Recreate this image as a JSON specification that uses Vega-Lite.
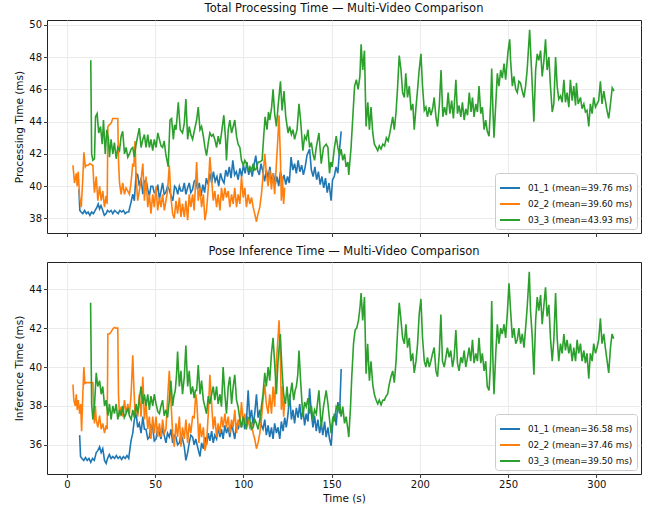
{
"$schema": "https://vega.github.io/schema/vega-lite/v6.json",
"padding": {"left": 14, "top": 2, "right": 10, "bottom": 5},
"background": "white",
"config": {
  "font": "DejaVu Sans",
  "view": {"stroke": "#222222", "strokeWidth": 1},
  "axis": {"domain": false, "tickColor": "#222222", "tickSize": 3.5, "tickWidth": 0.9, "labelFontSize": 10, "labelColor": "#111111", "titleFontSize": 10.5, "titleFontWeight": "normal", "titleColor": "#111111", "gridColor": "#e6e6e6", "gridWidth": 0.8, "labelPadding": 2, "titlePadding": 4},
  "title": {"fontSize": 11.5, "fontWeight": "normal", "color": "#111111", "offset": 5},
  "legend": {"fillColor": "white", "strokeColor": "#cccccc", "cornerRadius": 3, "padding": 4, "symbolType": "stroke", "symbolStrokeWidth": 2, "symbolSize": 400, "labelFontSize": 8.8, "labelColor": "#111111", "labelLimit": 300, "labelOffset": 7, "rowPadding": -4, "offset": 4}
},
"datasets": {
"total": [
{"s":"01_1","t":6.8,"y":39.8},{"s":"01_1","t":7.3,"y":38.5},{"s":"01_1","t":8,"y":38.4},{"s":"01_1","t":9,"y":38.3},{"s":"01_1","t":10,"y":38.5},{"s":"01_1","t":11,"y":38.3},{"s":"01_1","t":12,"y":38.4},{"s":"01_1","t":13,"y":38.2},{"s":"01_1","t":14,"y":38.4},{"s":"01_1","t":15,"y":38.3},{"s":"01_1","t":16,"y":38.5},{"s":"01_1","t":17,"y":38.7},{"s":"01_1","t":17.7,"y":38.9},{"s":"01_1","t":18.5,"y":38.6},{"s":"01_1","t":19.3,"y":38.8},{"s":"01_1","t":20.3,"y":38.5},{"s":"01_1","t":21.2,"y":38.2},{"s":"01_1","t":22.2,"y":38.3},{"s":"01_1","t":23,"y":38.5},{"s":"01_1","t":24,"y":38.4},{"s":"01_1","t":25,"y":38.5},{"s":"01_1","t":26,"y":38.3},{"s":"01_1","t":27,"y":38.5},{"s":"01_1","t":28,"y":38.4},{"s":"01_1","t":29,"y":38.3},{"s":"01_1","t":30,"y":38.5},{"s":"01_1","t":31,"y":38.4},{"s":"01_1","t":32,"y":38.5},{"s":"01_1","t":33,"y":38.3},{"s":"01_1","t":34,"y":38.4},{"s":"01_1","t":35,"y":38.4},{"s":"01_1","t":36.3,"y":39.0},{"s":"01_1","t":37.3,"y":39.5},{"s":"01_1","t":38.2,"y":39.1},{"s":"01_1","t":39.2,"y":40.8},{"s":"01_1","t":40.1,"y":40.7},{"s":"01_1","t":41,"y":40.0},{"s":"01_1","t":42,"y":40.5},{"s":"01_1","t":43,"y":39.5},{"s":"01_1","t":43.9,"y":40.3},{"s":"01_1","t":44.8,"y":40.4},{"s":"01_1","t":45.8,"y":39.8},{"s":"01_1","t":46.7,"y":39.4},{"s":"01_1","t":47.6,"y":40.0},{"s":"01_1","t":48.6,"y":40.0},{"s":"01_1","t":49.5,"y":39.6},{"s":"01_1","t":50.5,"y":39.6},{"s":"01_1","t":51.5,"y":40.1},{"s":"01_1","t":52.4,"y":39.2},{"s":"01_1","t":53.3,"y":39.7},{"s":"01_1","t":54.2,"y":40.2},{"s":"01_1","t":55.1,"y":39.5},{"s":"01_1","t":56,"y":39.6},{"s":"01_1","t":57,"y":40.0},{"s":"01_1","t":58,"y":39.8},{"s":"01_1","t":59,"y":39.4},{"s":"01_1","t":60,"y":39.1},{"s":"01_1","t":61,"y":40.0},{"s":"01_1","t":61.8,"y":39.9},{"s":"01_1","t":62.8,"y":39.5},{"s":"01_1","t":63.7,"y":40.0},{"s":"01_1","t":64.6,"y":39.7},{"s":"01_1","t":65.5,"y":39.7},{"s":"01_1","t":66.5,"y":40.2},{"s":"01_1","t":67.4,"y":39.5},{"s":"01_1","t":68.4,"y":39.9},{"s":"01_1","t":69.3,"y":40.2},{"s":"01_1","t":70.2,"y":39.6},{"s":"01_1","t":71.2,"y":39.8},{"s":"01_1","t":72.1,"y":40.3},{"s":"01_1","t":73,"y":40.4},{"s":"01_1","t":74,"y":39.8},{"s":"01_1","t":75,"y":40.2},{"s":"01_1","t":76,"y":39.4},{"s":"01_1","t":77,"y":40.1},{"s":"01_1","t":78,"y":39.6},{"s":"01_1","t":79,"y":40.5},{"s":"01_1","t":80,"y":40.1},{"s":"01_1","t":81,"y":40.8},{"s":"01_1","t":82,"y":40.2},{"s":"01_1","t":83,"y":40.9},{"s":"01_1","t":84,"y":40.3},{"s":"01_1","t":85,"y":40.6},{"s":"01_1","t":86,"y":40.0},{"s":"01_1","t":87,"y":40.8},{"s":"01_1","t":88,"y":40.4},{"s":"01_1","t":89,"y":40.2},{"s":"01_1","t":90,"y":41.0},{"s":"01_1","t":91,"y":40.6},{"s":"01_1","t":92,"y":41.2},{"s":"01_1","t":93,"y":40.5},{"s":"01_1","t":94,"y":41.6},{"s":"01_1","t":95,"y":40.7},{"s":"01_1","t":96,"y":40.9},{"s":"01_1","t":97,"y":40.4},{"s":"01_1","t":98,"y":41.1},{"s":"01_1","t":99,"y":40.6},{"s":"01_1","t":100,"y":41.3},{"s":"01_1","t":101,"y":40.8},{"s":"01_1","t":102,"y":41.5},{"s":"01_1","t":103,"y":40.7},{"s":"01_1","t":104,"y":41.2},{"s":"01_1","t":105,"y":40.6},{"s":"01_1","t":106,"y":41.3},{"s":"01_1","t":107,"y":41.9},{"s":"01_1","t":108,"y":41.0},{"s":"01_1","t":109,"y":40.7},{"s":"01_1","t":110,"y":41.4},{"s":"01_1","t":111,"y":40.9},{"s":"01_1","t":112,"y":40.3},{"s":"01_1","t":113,"y":41.0},{"s":"01_1","t":114,"y":40.5},{"s":"01_1","t":115,"y":41.2},{"s":"01_1","t":116,"y":40.2},{"s":"01_1","t":117,"y":40.8},{"s":"01_1","t":118,"y":40.1},{"s":"01_1","t":119,"y":40.6},{"s":"01_1","t":120,"y":40.0},{"s":"01_1","t":121,"y":40.9},{"s":"01_1","t":122,"y":40.3},{"s":"01_1","t":123,"y":40.7},{"s":"01_1","t":124,"y":40.1},{"s":"01_1","t":125,"y":40.6},{"s":"01_1","t":126,"y":40.2},{"s":"01_1","t":127,"y":41.8},{"s":"01_1","t":128,"y":41.0},{"s":"01_1","t":129,"y":41.4},{"s":"01_1","t":130,"y":40.8},{"s":"01_1","t":131,"y":41.6},{"s":"01_1","t":132,"y":40.9},{"s":"01_1","t":133,"y":41.3},{"s":"01_1","t":134,"y":40.7},{"s":"01_1","t":135,"y":41.2},{"s":"01_1","t":136,"y":41.9},{"s":"01_1","t":137.5,"y":42.3},{"s":"01_1","t":138.5,"y":41.0},{"s":"01_1","t":139.5,"y":40.6},{"s":"01_1","t":140.5,"y":41.2},{"s":"01_1","t":141.5,"y":40.4},{"s":"01_1","t":142.5,"y":40.9},{"s":"01_1","t":143.5,"y":40.1},{"s":"01_1","t":144.5,"y":40.6},{"s":"01_1","t":145.5,"y":39.9},{"s":"01_1","t":146.5,"y":40.5},{"s":"01_1","t":147.5,"y":39.6},{"s":"01_1","t":148.5,"y":40.2},{"s":"01_1","t":149.7,"y":39.1},{"s":"01_1","t":150.5,"y":40.4},{"s":"01_1","t":151.5,"y":40.6},{"s":"01_1","t":152.5,"y":41.2},{"s":"01_1","t":153.5,"y":40.8},{"s":"01_1","t":154.5,"y":42.3},{"s":"01_1","t":155.4,"y":43.4},
{"s":"02_2","t":3.4,"y":41.3},{"s":"02_2","t":4.3,"y":40.2},{"s":"02_2","t":5.3,"y":40.8},{"s":"02_2","t":5.8,"y":40.0},{"s":"02_2","t":6.4,"y":40.9},{"s":"02_2","t":7.2,"y":39.3},{"s":"02_2","t":8.1,"y":38.7},{"s":"02_2","t":9,"y":40.5},{"s":"02_2","t":9.6,"y":42.1},{"s":"02_2","t":10.4,"y":41.2},{"s":"02_2","t":11,"y":41.3},{"s":"02_2","t":12,"y":41.3},{"s":"02_2","t":13,"y":41.4},{"s":"02_2","t":14.3,"y":41.3},{"s":"02_2","t":14.7,"y":41.3},{"s":"02_2","t":15.2,"y":40.2},{"s":"02_2","t":15.6,"y":39.6},{"s":"02_2","t":16.6,"y":40.6},{"s":"02_2","t":17.5,"y":39.1},{"s":"02_2","t":18.5,"y":40.0},{"s":"02_2","t":19.4,"y":39.1},{"s":"02_2","t":20.3,"y":39.7},{"s":"02_2","t":21.3,"y":38.7},{"s":"02_2","t":22.2,"y":39.4},{"s":"02_2","t":22.8,"y":38.9},{"s":"02_2","t":23.2,"y":43.7},{"s":"02_2","t":24,"y":43.8},{"s":"02_2","t":25,"y":43.9},{"s":"02_2","t":26,"y":44.2},{"s":"02_2","t":27,"y":44.2},{"s":"02_2","t":28,"y":44.2},{"s":"02_2","t":28.8,"y":44.2},{"s":"02_2","t":29.2,"y":41.6},{"s":"02_2","t":29.8,"y":40.2},{"s":"02_2","t":30.7,"y":39.5},{"s":"02_2","t":31.6,"y":40.2},{"s":"02_2","t":32.6,"y":39.5},{"s":"02_2","t":33.5,"y":39.9},{"s":"02_2","t":34.5,"y":39.7},{"s":"02_2","t":35.4,"y":39.5},{"s":"02_2","t":36.3,"y":40.2},{"s":"02_2","t":37.3,"y":41.4},{"s":"02_2","t":37.9,"y":41.2},{"s":"02_2","t":38.6,"y":42.8},{"s":"02_2","t":39.2,"y":40.6},{"s":"02_2","t":40.1,"y":39.1},{"s":"02_2","t":41,"y":39.7},{"s":"02_2","t":42,"y":40.4},{"s":"02_2","t":43,"y":41.4},{"s":"02_2","t":43.9,"y":39.1},{"s":"02_2","t":44.8,"y":40.6},{"s":"02_2","t":45.8,"y":38.7},{"s":"02_2","t":46.7,"y":39.5},{"s":"02_2","t":47.6,"y":38.3},{"s":"02_2","t":48.6,"y":39.5},{"s":"02_2","t":49.5,"y":38.7},{"s":"02_2","t":50.5,"y":40.0},{"s":"02_2","t":51.4,"y":38.5},{"s":"02_2","t":52.4,"y":39.3},{"s":"02_2","t":53.3,"y":38.7},{"s":"02_2","t":54.2,"y":39.5},{"s":"02_2","t":55.2,"y":38.5},{"s":"02_2","t":56.1,"y":39.1},{"s":"02_2","t":57,"y":39.7},{"s":"02_2","t":58,"y":41.3},{"s":"02_2","t":58.9,"y":39.3},{"s":"02_2","t":59.9,"y":38.3},{"s":"02_2","t":60.8,"y":38.0},{"s":"02_2","t":61.8,"y":39.1},{"s":"02_2","t":62.7,"y":38.3},{"s":"02_2","t":63.7,"y":39.3},{"s":"02_2","t":64.6,"y":38.1},{"s":"02_2","t":65.5,"y":38.9},{"s":"02_2","t":66.5,"y":38.1},{"s":"02_2","t":67.4,"y":39.1},{"s":"02_2","t":68.4,"y":37.9},{"s":"02_2","t":69.3,"y":39.5},{"s":"02_2","t":70.2,"y":38.7},{"s":"02_2","t":71.2,"y":39.5},{"s":"02_2","t":72.1,"y":38.5},{"s":"02_2","t":73.5,"y":41.5},{"s":"02_2","t":74.4,"y":39.1},{"s":"02_2","t":75.4,"y":39.9},{"s":"02_2","t":76.3,"y":38.7},{"s":"02_2","t":77.3,"y":39.5},{"s":"02_2","t":78.2,"y":37.9},{"s":"02_2","t":79.1,"y":38.5},{"s":"02_2","t":80.1,"y":39.9},{"s":"02_2","t":81,"y":41.8},{"s":"02_2","t":82,"y":40.4},{"s":"02_2","t":82.9,"y":39.1},{"s":"02_2","t":83.8,"y":39.7},{"s":"02_2","t":84.8,"y":38.7},{"s":"02_2","t":85.7,"y":39.5},{"s":"02_2","t":86.7,"y":38.5},{"s":"02_2","t":87.6,"y":39.9},{"s":"02_2","t":88.5,"y":39.1},{"s":"02_2","t":89.5,"y":39.9},{"s":"02_2","t":90.4,"y":39.3},{"s":"02_2","t":91.4,"y":39.7},{"s":"02_2","t":92.3,"y":38.7},{"s":"02_2","t":93.3,"y":39.5},{"s":"02_2","t":94.2,"y":38.9},{"s":"02_2","t":95.1,"y":39.9},{"s":"02_2","t":96.1,"y":38.7},{"s":"02_2","t":97,"y":39.5},{"s":"02_2","t":98,"y":38.9},{"s":"02_2","t":98.9,"y":40.6},{"s":"02_2","t":99.9,"y":39.3},{"s":"02_2","t":100.8,"y":39.9},{"s":"02_2","t":101.7,"y":38.7},{"s":"02_2","t":102.7,"y":39.5},{"s":"02_2","t":103.6,"y":38.9},{"s":"02_2","t":104.6,"y":39.3},{"s":"02_2","t":105.5,"y":38.7},{"s":"02_2","t":106.4,"y":38.3},{"s":"02_2","t":107.4,"y":37.8},{"s":"02_2","t":108.3,"y":38.3},{"s":"02_2","t":109.3,"y":38.7},{"s":"02_2","t":110.2,"y":39.5},{"s":"02_2","t":111.1,"y":40.6},{"s":"02_2","t":112.1,"y":42.0},{"s":"02_2","t":113,"y":40.8},{"s":"02_2","t":114,"y":40.0},{"s":"02_2","t":114.9,"y":41.0},{"s":"02_2","t":115.9,"y":39.8},{"s":"02_2","t":116.8,"y":40.8},{"s":"02_2","t":117.7,"y":39.5},{"s":"02_2","t":118.7,"y":41.4},{"s":"02_2","t":119.6,"y":43.1},{"s":"02_2","t":120.2,"y":44.4},{"s":"02_2","t":121,"y":41.6},{"s":"02_2","t":121.5,"y":39.1},{"s":"02_2","t":122.1,"y":40.6},{"s":"02_2","t":122.8,"y":38.9},{"s":"02_2","t":123.4,"y":39.9},
{"s":"03_3","t":13.5,"y":47.8},{"s":"03_3","t":14,"y":42.0},{"s":"03_3","t":14.7,"y":41.6},{"s":"03_3","t":15.6,"y":41.7},{"s":"03_3","t":16.2,"y":44.3},{"s":"03_3","t":17.1,"y":44.5},{"s":"03_3","t":18,"y":43.3},{"s":"03_3","t":19,"y":43.7},{"s":"03_3","t":20,"y":42.6},{"s":"03_3","t":20.7,"y":44.1},{"s":"03_3","t":21.7,"y":42.0},{"s":"03_3","t":22.6,"y":43.5},{"s":"03_3","t":23.5,"y":42.9},{"s":"03_3","t":24.1,"y":41.8},{"s":"03_3","t":25,"y":42.9},{"s":"03_3","t":26,"y":42.0},{"s":"03_3","t":26.9,"y":42.7},{"s":"03_3","t":27.9,"y":41.7},{"s":"03_3","t":28.8,"y":42.4},{"s":"03_3","t":29.8,"y":42.2},{"s":"03_3","t":30.7,"y":43.1},{"s":"03_3","t":31.6,"y":43.4},{"s":"03_3","t":32.6,"y":42.0},{"s":"03_3","t":33.5,"y":42.4},{"s":"03_3","t":34.5,"y":41.8},{"s":"03_3","t":35.4,"y":42.0},{"s":"03_3","t":36.4,"y":42.3},{"s":"03_3","t":37.3,"y":42.4},{"s":"03_3","t":38.2,"y":41.8},{"s":"03_3","t":39.2,"y":42.6},{"s":"03_3","t":40.1,"y":43.1},{"s":"03_3","t":41,"y":43.6},{"s":"03_3","t":42,"y":42.4},{"s":"03_3","t":43,"y":42.9},{"s":"03_3","t":43.9,"y":43.2},{"s":"03_3","t":44.8,"y":42.4},{"s":"03_3","t":45.8,"y":43.2},{"s":"03_3","t":46.7,"y":42.4},{"s":"03_3","t":47.6,"y":42.9},{"s":"03_3","t":48.6,"y":42.2},{"s":"03_3","t":49.5,"y":42.9},{"s":"03_3","t":50.5,"y":42.4},{"s":"03_3","t":51.5,"y":43.3},{"s":"03_3","t":52.4,"y":42.9},{"s":"03_3","t":53.3,"y":42.5},{"s":"03_3","t":54.2,"y":42.4},{"s":"03_3","t":55.1,"y":42.8},{"s":"03_3","t":56,"y":42.0},{"s":"03_3","t":57.4,"y":41.2},{"s":"03_3","t":58.4,"y":44.1},{"s":"03_3","t":59.3,"y":44.2},{"s":"03_3","t":60.3,"y":42.9},{"s":"03_3","t":61,"y":43.8},{"s":"03_3","t":61.8,"y":43.5},{"s":"03_3","t":62.5,"y":44.4},{"s":"03_3","t":63.1,"y":45.2},{"s":"03_3","t":64.2,"y":43.5},{"s":"03_3","t":65.5,"y":43.3},{"s":"03_3","t":66.5,"y":43.9},{"s":"03_3","t":67.4,"y":45.4},{"s":"03_3","t":68.4,"y":42.9},{"s":"03_3","t":69.3,"y":43.7},{"s":"03_3","t":70.2,"y":43.2},{"s":"03_3","t":71.2,"y":42.9},{"s":"03_3","t":72.5,"y":43.6},{"s":"03_3","t":73.5,"y":44.1},{"s":"03_3","t":74.4,"y":44.9},{"s":"03_3","t":75.4,"y":43.5},{"s":"03_3","t":76.3,"y":43.7},{"s":"03_3","t":77.3,"y":43.1},{"s":"03_3","t":78.2,"y":42.4},{"s":"03_3","t":79.1,"y":41.9},{"s":"03_3","t":80.1,"y":42.7},{"s":"03_3","t":81,"y":43.3},{"s":"03_3","t":82,"y":43.1},{"s":"03_3","t":82.9,"y":43.2},{"s":"03_3","t":83.8,"y":42.9},{"s":"03_3","t":84.8,"y":42.4},{"s":"03_3","t":85.7,"y":43.1},{"s":"03_3","t":86.7,"y":42.6},{"s":"03_3","t":87.6,"y":43.3},{"s":"03_3","t":88.9,"y":44.4},{"s":"03_3","t":89.9,"y":42.9},{"s":"03_3","t":90.4,"y":41.6},{"s":"03_3","t":91.4,"y":43.5},{"s":"03_3","t":92.3,"y":44.1},{"s":"03_3","t":93.3,"y":43.3},{"s":"03_3","t":94.2,"y":43.7},{"s":"03_3","t":95.1,"y":44.1},{"s":"03_3","t":96.1,"y":43.1},{"s":"03_3","t":97,"y":42.6},{"s":"03_3","t":98,"y":42.4},{"s":"03_3","t":98.9,"y":41.6},{"s":"03_3","t":99.9,"y":41.3},{"s":"03_3","t":100.8,"y":41.6},{"s":"03_3","t":101.7,"y":41.4},{"s":"03_3","t":102.6,"y":41.0},{"s":"03_3","t":103.6,"y":41.2},{"s":"03_3","t":104.5,"y":40.9},{"s":"03_3","t":105.5,"y":41.4},{"s":"03_3","t":106.5,"y":41.0},{"s":"03_3","t":107.4,"y":41.1},{"s":"03_3","t":108.3,"y":41.5},{"s":"03_3","t":109.3,"y":41.5},{"s":"03_3","t":110.6,"y":41.6},{"s":"03_3","t":111.5,"y":43.1},{"s":"03_3","t":112.3,"y":44.3},{"s":"03_3","t":113.4,"y":43.5},{"s":"03_3","t":114.2,"y":44.6},{"s":"03_3","t":114.9,"y":44.1},{"s":"03_3","t":116,"y":44.9},{"s":"03_3","t":116.8,"y":46.0},{"s":"03_3","t":117.7,"y":44.5},{"s":"03_3","t":118.7,"y":43.7},{"s":"03_3","t":119.6,"y":44.9},{"s":"03_3","t":121,"y":46.5},{"s":"03_3","t":121.9,"y":44.7},{"s":"03_3","t":123,"y":45.9},{"s":"03_3","t":124,"y":44.3},{"s":"03_3","t":125.3,"y":43.3},{"s":"03_3","t":126.2,"y":43.7},{"s":"03_3","t":127.2,"y":43.2},{"s":"03_3","t":128.1,"y":43.5},{"s":"03_3","t":129,"y":42.9},{"s":"03_3","t":130.4,"y":43.5},{"s":"03_3","t":131.5,"y":45.1},{"s":"03_3","t":132.4,"y":44.1},{"s":"03_3","t":133.7,"y":42.2},{"s":"03_3","t":134.7,"y":43.1},{"s":"03_3","t":135.6,"y":42.9},{"s":"03_3","t":136.6,"y":43.5},{"s":"03_3","t":137.5,"y":42.4},{"s":"03_3","t":138.5,"y":42.7},{"s":"03_3","t":139.4,"y":42.0},{"s":"03_3","t":140.3,"y":41.6},{"s":"03_3","t":141.3,"y":42.4},{"s":"03_3","t":142.8,"y":43.3},{"s":"03_3","t":144.1,"y":41.4},{"s":"03_3","t":145.4,"y":42.4},{"s":"03_3","t":146.9,"y":42.6},{"s":"03_3","t":147.9,"y":42.4},{"s":"03_3","t":148.8,"y":40.8},{"s":"03_3","t":149.5,"y":41.5},{"s":"03_3","t":150.3,"y":41.2},{"s":"03_3","t":151.6,"y":42.4},{"s":"03_3","t":152.6,"y":43.1},{"s":"03_3","t":153.5,"y":42.4},{"s":"03_3","t":154.5,"y":41.9},{"s":"03_3","t":155.4,"y":42.3},{"s":"03_3","t":156.3,"y":41.6},{"s":"03_3","t":157.3,"y":42.0},{"s":"03_3","t":158.2,"y":41.2},{"s":"03_3","t":159.2,"y":41.5},{"s":"03_3","t":159.7,"y":40.7},{"s":"03_3","t":161,"y":42.4},{"s":"03_3","t":162,"y":44.3},{"s":"03_3","t":163,"y":46.2},{"s":"03_3","t":164,"y":46.6},{"s":"03_3","t":165,"y":46.0},{"s":"03_3","t":166,"y":46.8},{"s":"03_3","t":166.7,"y":48.8},{"s":"03_3","t":167.6,"y":47.2},{"s":"03_3","t":168.6,"y":48.4},{"s":"03_3","t":169.5,"y":43.7},{"s":"03_3","t":170.5,"y":45.2},{"s":"03_3","t":171.4,"y":43.5},{"s":"03_3","t":172.3,"y":44.9},{"s":"03_3","t":173.3,"y":43.3},{"s":"03_3","t":174.2,"y":42.6},{"s":"03_3","t":175.2,"y":42.4},{"s":"03_3","t":176.1,"y":42.2},{"s":"03_3","t":177,"y":42.5},{"s":"03_3","t":178,"y":42.3},{"s":"03_3","t":179,"y":42.6},{"s":"03_3","t":180,"y":42.5},{"s":"03_3","t":181,"y":43.0},{"s":"03_3","t":182,"y":42.8},{"s":"03_3","t":183,"y":43.3},{"s":"03_3","t":184.6,"y":44.3},{"s":"03_3","t":185.5,"y":43.5},{"s":"03_3","t":186.5,"y":44.6},{"s":"03_3","t":187.4,"y":46.2},{"s":"03_3","t":188.3,"y":48.1},{"s":"03_3","t":189.3,"y":47.2},{"s":"03_3","t":190.2,"y":45.8},{"s":"03_3","t":191.2,"y":45.5},{"s":"03_3","t":192,"y":47.0},{"s":"03_3","t":193,"y":45.5},{"s":"03_3","t":194,"y":46.2},{"s":"03_3","t":195,"y":44.7},{"s":"03_3","t":196,"y":45.1},{"s":"03_3","t":196.8,"y":43.5},{"s":"03_3","t":197.8,"y":44.9},{"s":"03_3","t":198.7,"y":46.0},{"s":"03_3","t":199.6,"y":47.2},{"s":"03_3","t":200.6,"y":48.2},{"s":"03_3","t":201.5,"y":46.2},{"s":"03_3","t":202.5,"y":44.7},{"s":"03_3","t":203.4,"y":44.9},{"s":"03_3","t":204.3,"y":44.3},{"s":"03_3","t":205.3,"y":44.9},{"s":"03_3","t":206.2,"y":44.4},{"s":"03_3","t":207.2,"y":44.8},{"s":"03_3","t":208.1,"y":45.5},{"s":"03_3","t":209.1,"y":44.3},{"s":"03_3","t":210,"y":43.7},{"s":"03_3","t":211,"y":45.0},{"s":"03_3","t":212,"y":47.2},{"s":"03_3","t":213,"y":44.3},{"s":"03_3","t":214,"y":44.9},{"s":"03_3","t":215,"y":44.4},{"s":"03_3","t":216,"y":45.8},{"s":"03_3","t":217,"y":44.5},{"s":"03_3","t":218,"y":45.3},{"s":"03_3","t":219,"y":44.2},{"s":"03_3","t":220.4,"y":46.6},{"s":"03_3","t":221.3,"y":44.5},{"s":"03_3","t":222.2,"y":45.0},{"s":"03_3","t":223.2,"y":44.3},{"s":"03_3","t":224.1,"y":45.2},{"s":"03_3","t":225.1,"y":44.1},{"s":"03_3","t":226,"y":44.8},{"s":"03_3","t":227,"y":44.4},{"s":"03_3","t":228,"y":45.8},{"s":"03_3","t":229,"y":44.6},{"s":"03_3","t":229.8,"y":45.5},{"s":"03_3","t":230.7,"y":44.3},{"s":"03_3","t":231.7,"y":45.1},{"s":"03_3","t":232.6,"y":44.6},{"s":"03_3","t":233.5,"y":46.2},{"s":"03_3","t":234.5,"y":44.5},{"s":"03_3","t":235.4,"y":44.9},{"s":"03_3","t":236.4,"y":43.5},{"s":"03_3","t":237.3,"y":44.1},{"s":"03_3","t":238.2,"y":43.4},{"s":"03_3","t":239.2,"y":43.1},{"s":"03_3","t":240.1,"y":45.1},{"s":"03_3","t":240.7,"y":47.3},{"s":"03_3","t":241.4,"y":44.7},{"s":"03_3","t":242,"y":43.0},{"s":"03_3","t":243,"y":45.1},{"s":"03_3","t":243.9,"y":47.0},{"s":"03_3","t":244.8,"y":46.2},{"s":"03_3","t":245.8,"y":47.2},{"s":"03_3","t":246.7,"y":46.7},{"s":"03_3","t":247.7,"y":47.6},{"s":"03_3","t":248.6,"y":46.6},{"s":"03_3","t":249.9,"y":48.3},{"s":"03_3","t":250.9,"y":49.1},{"s":"03_3","t":251.4,"y":47.8},{"s":"03_3","t":252.4,"y":46.2},{"s":"03_3","t":253.3,"y":46.8},{"s":"03_3","t":254.3,"y":46.0},{"s":"03_3","t":255.2,"y":45.8},{"s":"03_3","t":256.1,"y":46.5},{"s":"03_3","t":257,"y":46.4},{"s":"03_3","t":258,"y":45.9},{"s":"03_3","t":259,"y":45.5},{"s":"03_3","t":259.9,"y":46.2},{"s":"03_3","t":260.8,"y":47.2},{"s":"03_3","t":262.2,"y":49.7},{"s":"03_3","t":263.1,"y":47.6},{"s":"03_3","t":263.7,"y":46.2},{"s":"03_3","t":264.6,"y":44.0},{"s":"03_3","t":265.6,"y":47.2},{"s":"03_3","t":266.5,"y":48.2},{"s":"03_3","t":267.4,"y":47.8},{"s":"03_3","t":268.4,"y":48.4},{"s":"03_3","t":269.3,"y":46.8},{"s":"03_3","t":270.3,"y":47.8},{"s":"03_3","t":271.2,"y":49.1},{"s":"03_3","t":272.1,"y":47.2},{"s":"03_3","t":273.1,"y":48.0},{"s":"03_3","t":274,"y":46.2},{"s":"03_3","t":275,"y":44.6},{"s":"03_3","t":275.9,"y":45.1},{"s":"03_3","t":276.9,"y":48.0},{"s":"03_3","t":277.8,"y":46.2},{"s":"03_3","t":278.7,"y":45.4},{"s":"03_3","t":279.7,"y":45.6},{"s":"03_3","t":280.6,"y":45.2},{"s":"03_3","t":281.6,"y":46.6},{"s":"03_3","t":282.5,"y":45.2},{"s":"03_3","t":283.4,"y":45.8},{"s":"03_3","t":284.4,"y":44.9},{"s":"03_3","t":285.3,"y":46.6},{"s":"03_3","t":286.3,"y":45.3},{"s":"03_3","t":287.2,"y":46.2},{"s":"03_3","t":288.2,"y":45.0},{"s":"03_3","t":288.7,"y":46.4},{"s":"03_3","t":289.7,"y":45.1},{"s":"03_3","t":291,"y":45.5},{"s":"03_3","t":291.9,"y":44.8},{"s":"03_3","t":292.9,"y":45.1},{"s":"03_3","t":293.8,"y":44.6},{"s":"03_3","t":294.7,"y":44.7},{"s":"03_3","t":295.7,"y":43.7},{"s":"03_3","t":296.6,"y":45.1},{"s":"03_3","t":297.6,"y":44.5},{"s":"03_3","t":298.5,"y":45.5},{"s":"03_3","t":299.5,"y":44.9},{"s":"03_3","t":300.4,"y":45.1},{"s":"03_3","t":301.3,"y":45.3},{"s":"03_3","t":302.3,"y":46.5},{"s":"03_3","t":303.2,"y":45.1},{"s":"03_3","t":304.2,"y":45.9},{"s":"03_3","t":305.1,"y":45.3},{"s":"03_3","t":306,"y":44.7},{"s":"03_3","t":307,"y":44.2},{"s":"03_3","t":308,"y":45.1},{"s":"03_3","t":309,"y":46.1},{"s":"03_3","t":310,"y":45.9}
],
"pose": [
{"s":"01_1","t":7.2,"y":36.5},{"s":"01_1","t":7.7,"y":35.4},{"s":"01_1","t":8.5,"y":35.3},{"s":"01_1","t":9.5,"y":35.2},{"s":"01_1","t":10.5,"y":35.35},{"s":"01_1","t":11.5,"y":35.2},{"s":"01_1","t":12.5,"y":35.3},{"s":"01_1","t":13.5,"y":35.1},{"s":"01_1","t":14.5,"y":35.3},{"s":"01_1","t":15.5,"y":35.2},{"s":"01_1","t":16.6,"y":35.6},{"s":"01_1","t":17.5,"y":35.7},{"s":"01_1","t":18.5,"y":35.9},{"s":"01_1","t":19.4,"y":35.6},{"s":"01_1","t":20.3,"y":35.8},{"s":"01_1","t":21.3,"y":35.2},{"s":"01_1","t":22.2,"y":35.05},{"s":"01_1","t":23,"y":35.3},{"s":"01_1","t":24,"y":35.5},{"s":"01_1","t":25,"y":35.3},{"s":"01_1","t":26,"y":35.4},{"s":"01_1","t":27,"y":35.3},{"s":"01_1","t":28,"y":35.45},{"s":"01_1","t":29,"y":35.3},{"s":"01_1","t":30,"y":35.4},{"s":"01_1","t":31,"y":35.25},{"s":"01_1","t":32,"y":35.4},{"s":"01_1","t":33,"y":35.3},{"s":"01_1","t":34,"y":35.45},{"s":"01_1","t":35,"y":35.3},{"s":"01_1","t":36.3,"y":36.2},{"s":"01_1","t":37.3,"y":36.6},{"s":"01_1","t":38.2,"y":37.3},{"s":"01_1","t":39.2,"y":37.6},{"s":"01_1","t":40.1,"y":36.9},{"s":"01_1","t":41,"y":37.1},{"s":"01_1","t":42,"y":36.6},{"s":"01_1","t":43,"y":37.45},{"s":"01_1","t":43.9,"y":36.8},{"s":"01_1","t":44.8,"y":36.8},{"s":"01_1","t":45.8,"y":36.3},{"s":"01_1","t":46.7,"y":36.4},{"s":"01_1","t":47.6,"y":37.0},{"s":"01_1","t":48.6,"y":36.9},{"s":"01_1","t":49.5,"y":36.2},{"s":"01_1","t":50.5,"y":36.3},{"s":"01_1","t":51.5,"y":36.9},{"s":"01_1","t":52.4,"y":36.6},{"s":"01_1","t":53.3,"y":36.3},{"s":"01_1","t":54.2,"y":36.9},{"s":"01_1","t":55.1,"y":36.5},{"s":"01_1","t":56.1,"y":36.1},{"s":"01_1","t":57,"y":36.6},{"s":"01_1","t":58,"y":36.4},{"s":"01_1","t":59,"y":36.8},{"s":"01_1","t":59.9,"y":36.1},{"s":"01_1","t":60.8,"y":36.5},{"s":"01_1","t":61.8,"y":36.4},{"s":"01_1","t":62.7,"y":36.0},{"s":"01_1","t":63.7,"y":36.1},{"s":"01_1","t":64.6,"y":36.5},{"s":"01_1","t":65.5,"y":36.3},{"s":"01_1","t":66.5,"y":35.9},{"s":"01_1","t":67.4,"y":35.2},{"s":"01_1","t":68.4,"y":35.6},{"s":"01_1","t":69.3,"y":36.1},{"s":"01_1","t":70.2,"y":36.5},{"s":"01_1","t":71.2,"y":36.4},{"s":"01_1","t":72.1,"y":36.0},{"s":"01_1","t":73,"y":36.3},{"s":"01_1","t":74,"y":35.9},{"s":"01_1","t":75.4,"y":35.4},{"s":"01_1","t":76.3,"y":36.1},{"s":"01_1","t":77.3,"y":35.8},{"s":"01_1","t":78.2,"y":36.4},{"s":"01_1","t":79.1,"y":36.0},{"s":"01_1","t":80.1,"y":36.6},{"s":"01_1","t":81,"y":36.2},{"s":"01_1","t":82,"y":36.7},{"s":"01_1","t":82.9,"y":36.1},{"s":"01_1","t":83.8,"y":36.5},{"s":"01_1","t":84.8,"y":36.3},{"s":"01_1","t":85.7,"y":36.9},{"s":"01_1","t":86.7,"y":36.4},{"s":"01_1","t":87.6,"y":36.8},{"s":"01_1","t":88.5,"y":36.3},{"s":"01_1","t":89.5,"y":37.0},{"s":"01_1","t":90.4,"y":36.6},{"s":"01_1","t":91.4,"y":36.9},{"s":"01_1","t":92.3,"y":36.4},{"s":"01_1","t":93.3,"y":37.1},{"s":"01_1","t":94.2,"y":36.7},{"s":"01_1","t":95.1,"y":36.3},{"s":"01_1","t":96.1,"y":37.1},{"s":"01_1","t":97,"y":36.8},{"s":"01_1","t":98,"y":37.3},{"s":"01_1","t":98.9,"y":36.9},{"s":"01_1","t":99.9,"y":37.4},{"s":"01_1","t":100.8,"y":36.8},{"s":"01_1","t":101.7,"y":37.2},{"s":"01_1","t":102.7,"y":38.8},{"s":"01_1","t":103.6,"y":37.3},{"s":"01_1","t":104.6,"y":37.8},{"s":"01_1","t":105.5,"y":37.0},{"s":"01_1","t":106.4,"y":37.6},{"s":"01_1","t":107.4,"y":38.6},{"s":"01_1","t":108.3,"y":37.4},{"s":"01_1","t":109.3,"y":37.8},{"s":"01_1","t":110.2,"y":37.0},{"s":"01_1","t":111.1,"y":36.8},{"s":"01_1","t":112.1,"y":37.3},{"s":"01_1","t":113,"y":36.5},{"s":"01_1","t":114,"y":37.0},{"s":"01_1","t":114.9,"y":36.4},{"s":"01_1","t":115.9,"y":36.9},{"s":"01_1","t":116.8,"y":36.3},{"s":"01_1","t":117.7,"y":37.1},{"s":"01_1","t":118.7,"y":36.6},{"s":"01_1","t":119.6,"y":36.9},{"s":"01_1","t":120.6,"y":36.3},{"s":"01_1","t":121.5,"y":37.2},{"s":"01_1","t":122.5,"y":36.7},{"s":"01_1","t":123.4,"y":37.4},{"s":"01_1","t":124.3,"y":36.9},{"s":"01_1","t":125.3,"y":37.6},{"s":"01_1","t":126.2,"y":38.6},{"s":"01_1","t":127.2,"y":37.3},{"s":"01_1","t":128.1,"y":37.8},{"s":"01_1","t":129,"y":37.1},{"s":"01_1","t":130,"y":37.9},{"s":"01_1","t":131,"y":37.4},{"s":"01_1","t":131.9,"y":38.1},{"s":"01_1","t":132.8,"y":37.3},{"s":"01_1","t":133.8,"y":37.8},{"s":"01_1","t":134.7,"y":37.0},{"s":"01_1","t":135.6,"y":37.6},{"s":"01_1","t":136.6,"y":37.2},{"s":"01_1","t":137.5,"y":38.9},{"s":"01_1","t":138.5,"y":37.6},{"s":"01_1","t":139.4,"y":36.9},{"s":"01_1","t":140.3,"y":37.5},{"s":"01_1","t":141.3,"y":36.7},{"s":"01_1","t":142.2,"y":37.3},{"s":"01_1","t":143.2,"y":36.6},{"s":"01_1","t":144.1,"y":37.1},{"s":"01_1","t":145,"y":36.5},{"s":"01_1","t":146,"y":37.2},{"s":"01_1","t":146.9,"y":36.4},{"s":"01_1","t":147.9,"y":36.9},{"s":"01_1","t":148.8,"y":36.3},{"s":"01_1","t":149.7,"y":35.95},{"s":"01_1","t":150.7,"y":37.2},{"s":"01_1","t":151.6,"y":37.6},{"s":"01_1","t":152.6,"y":37.0},{"s":"01_1","t":153.5,"y":38.2},{"s":"01_1","t":154.5,"y":37.6},{"s":"01_1","t":155.4,"y":39.9},
{"s":"02_2","t":3.4,"y":39.1},{"s":"02_2","t":3.9,"y":38.3},{"s":"02_2","t":4.7,"y":38.0},{"s":"02_2","t":5.3,"y":38.6},{"s":"02_2","t":5.8,"y":37.8},{"s":"02_2","t":6.4,"y":38.3},{"s":"02_2","t":7.2,"y":37.6},{"s":"02_2","t":7.8,"y":38.1},{"s":"02_2","t":8.3,"y":36.7},{"s":"02_2","t":9,"y":38.6},{"s":"02_2","t":9.6,"y":40.0},{"s":"02_2","t":10.2,"y":39.15},{"s":"02_2","t":11,"y":39.2},{"s":"02_2","t":12,"y":39.2},{"s":"02_2","t":13,"y":39.2},{"s":"02_2","t":14,"y":39.2},{"s":"02_2","t":14.7,"y":39.2},{"s":"02_2","t":15.1,"y":38.0},{"s":"02_2","t":15.6,"y":37.1},{"s":"02_2","t":16.1,"y":38.0},{"s":"02_2","t":16.6,"y":37.3},{"s":"02_2","t":17.5,"y":36.9},{"s":"02_2","t":18.5,"y":37.5},{"s":"02_2","t":19.4,"y":36.8},{"s":"02_2","t":20.3,"y":37.1},{"s":"02_2","t":21.3,"y":36.6},{"s":"02_2","t":22.2,"y":37.0},{"s":"02_2","t":22.8,"y":36.8},{"s":"02_2","t":23.2,"y":41.7},{"s":"02_2","t":24,"y":41.7},{"s":"02_2","t":25,"y":41.8},{"s":"02_2","t":26,"y":41.96},{"s":"02_2","t":26.9,"y":42.04},{"s":"02_2","t":27.9,"y":42.0},{"s":"02_2","t":28.8,"y":42.0},{"s":"02_2","t":29.2,"y":38.6},{"s":"02_2","t":29.8,"y":37.45},{"s":"02_2","t":30.7,"y":37.96},{"s":"02_2","t":31.6,"y":37.45},{"s":"02_2","t":32.6,"y":38.3},{"s":"02_2","t":33.5,"y":37.6},{"s":"02_2","t":34.5,"y":38.1},{"s":"02_2","t":35.4,"y":37.6},{"s":"02_2","t":36.3,"y":38.5},{"s":"02_2","t":37.3,"y":40.6},{"s":"02_2","t":37.9,"y":39.0},{"s":"02_2","t":38.6,"y":37.6},{"s":"02_2","t":39.2,"y":37.96},{"s":"02_2","t":40.1,"y":37.45},{"s":"02_2","t":41,"y":38.6},{"s":"02_2","t":42,"y":37.45},{"s":"02_2","t":43,"y":39.5},{"s":"02_2","t":43.9,"y":37.3},{"s":"02_2","t":44.8,"y":38.1},{"s":"02_2","t":45.8,"y":36.8},{"s":"02_2","t":46.7,"y":37.45},{"s":"02_2","t":47.6,"y":36.3},{"s":"02_2","t":48.6,"y":37.45},{"s":"02_2","t":49.5,"y":36.6},{"s":"02_2","t":50.5,"y":37.45},{"s":"02_2","t":51.4,"y":36.4},{"s":"02_2","t":52.4,"y":37.1},{"s":"02_2","t":53.3,"y":36.4},{"s":"02_2","t":54.2,"y":37.3},{"s":"02_2","t":55.2,"y":36.6},{"s":"02_2","t":56.1,"y":36.8},{"s":"02_2","t":57,"y":38.3},{"s":"02_2","t":58,"y":39.8},{"s":"02_2","t":58.9,"y":38.3},{"s":"02_2","t":59.9,"y":36.6},{"s":"02_2","t":60.8,"y":35.9},{"s":"02_2","t":61.8,"y":37.1},{"s":"02_2","t":62.7,"y":36.4},{"s":"02_2","t":63.7,"y":37.45},{"s":"02_2","t":64.6,"y":35.9},{"s":"02_2","t":65.5,"y":36.9},{"s":"02_2","t":66.5,"y":36.3},{"s":"02_2","t":67.4,"y":37.3},{"s":"02_2","t":68.4,"y":36.1},{"s":"02_2","t":69.3,"y":37.1},{"s":"02_2","t":70.2,"y":36.6},{"s":"02_2","t":71.2,"y":37.45},{"s":"02_2","t":72.1,"y":37.4},{"s":"02_2","t":73,"y":38.6},{"s":"02_2","t":73.5,"y":38.3},{"s":"02_2","t":74,"y":37.5},{"s":"02_2","t":74.8,"y":36.1},{"s":"02_2","t":75.4,"y":37.1},{"s":"02_2","t":76.3,"y":36.4},{"s":"02_2","t":77.3,"y":36.9},{"s":"02_2","t":78.2,"y":35.7},{"s":"02_2","t":79.1,"y":36.1},{"s":"02_2","t":80.1,"y":37.6},{"s":"02_2","t":81,"y":39.6},{"s":"02_2","t":82,"y":38.1},{"s":"02_2","t":82.9,"y":36.8},{"s":"02_2","t":83.8,"y":37.45},{"s":"02_2","t":84.8,"y":36.4},{"s":"02_2","t":85.7,"y":37.1},{"s":"02_2","t":86.7,"y":36.6},{"s":"02_2","t":87.6,"y":37.45},{"s":"02_2","t":88.5,"y":36.9},{"s":"02_2","t":89.5,"y":37.6},{"s":"02_2","t":90.4,"y":36.9},{"s":"02_2","t":91.4,"y":37.45},{"s":"02_2","t":92.3,"y":36.6},{"s":"02_2","t":93.3,"y":37.3},{"s":"02_2","t":94.2,"y":36.9},{"s":"02_2","t":95.1,"y":37.8},{"s":"02_2","t":96.1,"y":36.6},{"s":"02_2","t":97,"y":37.3},{"s":"02_2","t":98,"y":36.9},{"s":"02_2","t":98.9,"y":38.2},{"s":"02_2","t":99.9,"y":37.1},{"s":"02_2","t":100.8,"y":37.6},{"s":"02_2","t":101.7,"y":36.8},{"s":"02_2","t":102.7,"y":37.3},{"s":"02_2","t":103.6,"y":36.9},{"s":"02_2","t":104.6,"y":37.1},{"s":"02_2","t":105.5,"y":36.6},{"s":"02_2","t":106.4,"y":36.3},{"s":"02_2","t":107.4,"y":35.8},{"s":"02_2","t":108.3,"y":36.1},{"s":"02_2","t":109.3,"y":36.6},{"s":"02_2","t":110.2,"y":37.3},{"s":"02_2","t":111.1,"y":38.3},{"s":"02_2","t":112.1,"y":39.1},{"s":"02_2","t":113,"y":38.1},{"s":"02_2","t":114,"y":37.6},{"s":"02_2","t":114.9,"y":38.6},{"s":"02_2","t":115.9,"y":37.6},{"s":"02_2","t":116.8,"y":39.0},{"s":"02_2","t":117.7,"y":37.96},{"s":"02_2","t":118.7,"y":40.3},{"s":"02_2","t":119.6,"y":41.5},{"s":"02_2","t":120.2,"y":42.4},{"s":"02_2","t":121,"y":40.3},{"s":"02_2","t":121.5,"y":37.8},{"s":"02_2","t":122.1,"y":39.0},{"s":"02_2","t":122.8,"y":37.45},{"s":"02_2","t":123.4,"y":38.3},
{"s":"03_3","t":13.4,"y":43.3},{"s":"03_3","t":14,"y":38.1},{"s":"03_3","t":14.7,"y":37.3},{"s":"03_3","t":15.6,"y":38.0},{"s":"03_3","t":16.6,"y":39.7},{"s":"03_3","t":17.5,"y":39.0},{"s":"03_3","t":18.5,"y":39.3},{"s":"03_3","t":19.4,"y":38.6},{"s":"03_3","t":20.3,"y":39.0},{"s":"03_3","t":21.3,"y":38.0},{"s":"03_3","t":22.2,"y":38.3},{"s":"03_3","t":23.2,"y":37.5},{"s":"03_3","t":24.1,"y":38.1},{"s":"03_3","t":25,"y":37.3},{"s":"03_3","t":26,"y":38.0},{"s":"03_3","t":26.9,"y":37.6},{"s":"03_3","t":27.9,"y":38.1},{"s":"03_3","t":28.8,"y":37.3},{"s":"03_3","t":29.8,"y":37.8},{"s":"03_3","t":30.7,"y":37.5},{"s":"03_3","t":31.6,"y":38.0},{"s":"03_3","t":32.5,"y":37.4},{"s":"03_3","t":33.5,"y":37.6},{"s":"03_3","t":34.5,"y":37.9},{"s":"03_3","t":35.4,"y":37.5},{"s":"03_3","t":36.4,"y":37.3},{"s":"03_3","t":37.3,"y":37.8},{"s":"03_3","t":38.2,"y":37.4},{"s":"03_3","t":39.2,"y":38.1},{"s":"03_3","t":40.1,"y":37.6},{"s":"03_3","t":41,"y":38.3},{"s":"03_3","t":42,"y":39.0},{"s":"03_3","t":43,"y":38.1},{"s":"03_3","t":43.9,"y":38.6},{"s":"03_3","t":44.8,"y":38.0},{"s":"03_3","t":45.8,"y":38.6},{"s":"03_3","t":46.7,"y":37.8},{"s":"03_3","t":47.6,"y":38.5},{"s":"03_3","t":48.6,"y":38.0},{"s":"03_3","t":49.5,"y":38.6},{"s":"03_3","t":50.5,"y":38.1},{"s":"03_3","t":51.5,"y":37.7},{"s":"03_3","t":52.4,"y":37.6},{"s":"03_3","t":53.3,"y":38.0},{"s":"03_3","t":54.2,"y":38.3},{"s":"03_3","t":55.1,"y":37.5},{"s":"03_3","t":56.1,"y":37.8},{"s":"03_3","t":57,"y":37.4},{"s":"03_3","t":58,"y":38.3},{"s":"03_3","t":58.9,"y":39.3},{"s":"03_3","t":59.9,"y":38.0},{"s":"03_3","t":60.6,"y":38.5},{"s":"03_3","t":61.4,"y":38.8},{"s":"03_3","t":62.1,"y":39.6},{"s":"03_3","t":62.7,"y":40.8},{"s":"03_3","t":63.7,"y":39.0},{"s":"03_3","t":64.6,"y":39.8},{"s":"03_3","t":65.5,"y":38.6},{"s":"03_3","t":66.5,"y":39.5},{"s":"03_3","t":67.4,"y":41.1},{"s":"03_3","t":68.4,"y":39.0},{"s":"03_3","t":69.3,"y":39.8},{"s":"03_3","t":70.2,"y":38.6},{"s":"03_3","t":71.2,"y":39.0},{"s":"03_3","t":72.1,"y":38.4},{"s":"03_3","t":72.8,"y":38.8},{"s":"03_3","t":73.5,"y":38.8},{"s":"03_3","t":74.4,"y":40.1},{"s":"03_3","t":75.4,"y":38.6},{"s":"03_3","t":76.3,"y":39.3},{"s":"03_3","t":77.3,"y":38.3},{"s":"03_3","t":78.2,"y":37.96},{"s":"03_3","t":79.1,"y":37.6},{"s":"03_3","t":80.1,"y":38.5},{"s":"03_3","t":81,"y":38.1},{"s":"03_3","t":82,"y":38.6},{"s":"03_3","t":82.9,"y":39.0},{"s":"03_3","t":83.8,"y":38.3},{"s":"03_3","t":84.8,"y":39.0},{"s":"03_3","t":85.7,"y":38.1},{"s":"03_3","t":86.7,"y":38.6},{"s":"03_3","t":87.6,"y":37.96},{"s":"03_3","t":88.5,"y":40.0},{"s":"03_3","t":89.5,"y":38.6},{"s":"03_3","t":90.4,"y":37.6},{"s":"03_3","t":91.4,"y":39.0},{"s":"03_3","t":92.3,"y":39.5},{"s":"03_3","t":93.3,"y":38.1},{"s":"03_3","t":94.2,"y":39.0},{"s":"03_3","t":95.1,"y":39.6},{"s":"03_3","t":96.1,"y":38.3},{"s":"03_3","t":97,"y":37.96},{"s":"03_3","t":98,"y":37.3},{"s":"03_3","t":98.9,"y":36.9},{"s":"03_3","t":99.9,"y":37.45},{"s":"03_3","t":100.8,"y":37.1},{"s":"03_3","t":101.7,"y":36.9},{"s":"03_3","t":102.6,"y":37.4},{"s":"03_3","t":103.6,"y":37.3},{"s":"03_3","t":104.5,"y":36.8},{"s":"03_3","t":105.5,"y":36.9},{"s":"03_3","t":106.5,"y":37.3},{"s":"03_3","t":107.4,"y":37.1},{"s":"03_3","t":108.3,"y":36.8},{"s":"03_3","t":109.3,"y":37.3},{"s":"03_3","t":110.2,"y":37.96},{"s":"03_3","t":111.1,"y":38.6},{"s":"03_3","t":112.1,"y":39.7},{"s":"03_3","t":113,"y":39.0},{"s":"03_3","t":114,"y":40.0},{"s":"03_3","t":114.9,"y":39.3},{"s":"03_3","t":115.9,"y":40.7},{"s":"03_3","t":116.8,"y":41.5},{"s":"03_3","t":117.7,"y":40.2},{"s":"03_3","t":118.7,"y":38.6},{"s":"03_3","t":119.6,"y":40.3},{"s":"03_3","t":120.9,"y":41.7},{"s":"03_3","t":121.9,"y":39.8},{"s":"03_3","t":122.8,"y":38.6},{"s":"03_3","t":123.8,"y":38.1},{"s":"03_3","t":124.7,"y":39.0},{"s":"03_3","t":125.6,"y":37.96},{"s":"03_3","t":126.6,"y":38.6},{"s":"03_3","t":127.5,"y":39.2},{"s":"03_3","t":128.5,"y":38.3},{"s":"03_3","t":129.3,"y":38.8},{"s":"03_3","t":130,"y":39.0},{"s":"03_3","t":130.8,"y":39.6},{"s":"03_3","t":131.5,"y":40.85},{"s":"03_3","t":132.4,"y":39.3},{"s":"03_3","t":133.7,"y":37.45},{"s":"03_3","t":134.7,"y":38.2},{"s":"03_3","t":135.6,"y":37.96},{"s":"03_3","t":136.6,"y":38.4},{"s":"03_3","t":137.5,"y":37.6},{"s":"03_3","t":138.5,"y":38.0},{"s":"03_3","t":139.4,"y":37.3},{"s":"03_3","t":140.3,"y":37.8},{"s":"03_3","t":141.3,"y":37.6},{"s":"03_3","t":142.8,"y":38.8},{"s":"03_3","t":144.1,"y":36.9},{"s":"03_3","t":145.4,"y":37.96},{"s":"03_3","t":146.9,"y":38.8},{"s":"03_3","t":147.9,"y":38.1},{"s":"03_3","t":148.8,"y":37.3},{"s":"03_3","t":149.7,"y":36.6},{"s":"03_3","t":150.7,"y":37.45},{"s":"03_3","t":151.6,"y":37.2},{"s":"03_3","t":152.6,"y":37.96},{"s":"03_3","t":153.5,"y":37.8},{"s":"03_3","t":154.5,"y":38.1},{"s":"03_3","t":155.4,"y":37.45},{"s":"03_3","t":156.3,"y":37.96},{"s":"03_3","t":157.3,"y":37.1},{"s":"03_3","t":158.2,"y":37.45},{"s":"03_3","t":159.2,"y":36.8},{"s":"03_3","t":159.7,"y":36.4},{"s":"03_3","t":160.7,"y":37.96},{"s":"03_3","t":161.4,"y":39.5},{"s":"03_3","t":162.4,"y":41.2},{"s":"03_3","t":163.3,"y":41.9},{"s":"03_3","t":164.2,"y":42.0},{"s":"03_3","t":165.2,"y":42.4},{"s":"03_3","t":166.1,"y":43.1},{"s":"03_3","t":166.7,"y":43.8},{"s":"03_3","t":167.6,"y":42.4},{"s":"03_3","t":168.6,"y":43.6},{"s":"03_3","t":169.5,"y":39.66},{"s":"03_3","t":170.4,"y":41.2},{"s":"03_3","t":171.4,"y":39.3},{"s":"03_3","t":172.3,"y":40.3},{"s":"03_3","t":173.3,"y":39.1},{"s":"03_3","t":174.2,"y":38.6},{"s":"03_3","t":175.2,"y":38.3},{"s":"03_3","t":176.1,"y":38.1},{"s":"03_3","t":177,"y":38.3},{"s":"03_3","t":178,"y":38.05},{"s":"03_3","t":179,"y":38.3},{"s":"03_3","t":179.9,"y":38.3},{"s":"03_3","t":180.8,"y":38.5},{"s":"03_3","t":181.7,"y":38.6},{"s":"03_3","t":182.6,"y":39.1},{"s":"03_3","t":183.6,"y":39.5},{"s":"03_3","t":184.6,"y":39.8},{"s":"03_3","t":185.5,"y":39.2},{"s":"03_3","t":186.5,"y":40.3},{"s":"03_3","t":187.4,"y":41.9},{"s":"03_3","t":188.3,"y":43.3},{"s":"03_3","t":189.3,"y":42.4},{"s":"03_3","t":190.2,"y":41.5},{"s":"03_3","t":191.2,"y":41.2},{"s":"03_3","t":192.1,"y":42.2},{"s":"03_3","t":193,"y":41.0},{"s":"03_3","t":194,"y":41.5},{"s":"03_3","t":194.9,"y":40.3},{"s":"03_3","t":195.9,"y":40.7},{"s":"03_3","t":196.8,"y":39.7},{"s":"03_3","t":197.8,"y":40.3},{"s":"03_3","t":198.7,"y":41.2},{"s":"03_3","t":199.6,"y":42.7},{"s":"03_3","t":200.6,"y":43.5},{"s":"03_3","t":201.5,"y":41.5},{"s":"03_3","t":202.5,"y":40.3},{"s":"03_3","t":203.4,"y":40.0},{"s":"03_3","t":204.3,"y":40.5},{"s":"03_3","t":205.3,"y":40.0},{"s":"03_3","t":206.2,"y":40.3},{"s":"03_3","t":207.2,"y":40.7},{"s":"03_3","t":208.1,"y":41.0},{"s":"03_3","t":209.1,"y":39.8},{"s":"03_3","t":210,"y":39.5},{"s":"03_3","t":211,"y":40.7},{"s":"03_3","t":211.9,"y":42.7},{"s":"03_3","t":212.8,"y":40.3},{"s":"03_3","t":213.8,"y":40.0},{"s":"03_3","t":214.7,"y":40.5},{"s":"03_3","t":215.6,"y":41.0},{"s":"03_3","t":216.6,"y":40.5},{"s":"03_3","t":217.5,"y":40.85},{"s":"03_3","t":218.5,"y":40.0},{"s":"03_3","t":219.4,"y":40.5},{"s":"03_3","t":220.4,"y":41.9},{"s":"03_3","t":221.3,"y":40.2},{"s":"03_3","t":222.2,"y":39.8},{"s":"03_3","t":223.2,"y":40.5},{"s":"03_3","t":224.1,"y":40.2},{"s":"03_3","t":225.1,"y":40.85},{"s":"03_3","t":226,"y":40.0},{"s":"03_3","t":227,"y":40.5},{"s":"03_3","t":227.9,"y":41.0},{"s":"03_3","t":228.8,"y":40.3},{"s":"03_3","t":229.8,"y":41.4},{"s":"03_3","t":230.7,"y":40.2},{"s":"03_3","t":231.7,"y":40.7},{"s":"03_3","t":232.6,"y":40.3},{"s":"03_3","t":233.5,"y":41.5},{"s":"03_3","t":234.5,"y":40.2},{"s":"03_3","t":235.4,"y":40.7},{"s":"03_3","t":236.4,"y":39.8},{"s":"03_3","t":237.3,"y":40.3},{"s":"03_3","t":238.2,"y":39.0},{"s":"03_3","t":239.2,"y":38.8},{"s":"03_3","t":240.1,"y":40.3},{"s":"03_3","t":240.7,"y":43.4},{"s":"03_3","t":241.4,"y":40.3},{"s":"03_3","t":242,"y":38.6},{"s":"03_3","t":243,"y":40.7},{"s":"03_3","t":243.9,"y":42.2},{"s":"03_3","t":244.8,"y":41.2},{"s":"03_3","t":245.8,"y":42.0},{"s":"03_3","t":246.7,"y":41.7},{"s":"03_3","t":247.7,"y":42.2},{"s":"03_3","t":248.6,"y":41.5},{"s":"03_3","t":249.5,"y":42.7},{"s":"03_3","t":250.5,"y":44.3},{"s":"03_3","t":251.4,"y":42.9},{"s":"03_3","t":252.4,"y":41.5},{"s":"03_3","t":253.3,"y":42.0},{"s":"03_3","t":254.3,"y":41.2},{"s":"03_3","t":255.2,"y":41.4},{"s":"03_3","t":256.1,"y":42.0},{"s":"03_3","t":257.1,"y":41.2},{"s":"03_3","t":258,"y":41.7},{"s":"03_3","t":259,"y":41.0},{"s":"03_3","t":259.9,"y":42.0},{"s":"03_3","t":260.8,"y":43.05},{"s":"03_3","t":262,"y":44.9},{"s":"03_3","t":262.7,"y":42.9},{"s":"03_3","t":263.7,"y":41.5},{"s":"03_3","t":264.6,"y":39.6},{"s":"03_3","t":265.6,"y":42.4},{"s":"03_3","t":266.5,"y":43.6},{"s":"03_3","t":267.4,"y":42.9},{"s":"03_3","t":268.4,"y":43.7},{"s":"03_3","t":269.3,"y":42.2},{"s":"03_3","t":270.3,"y":43.2},{"s":"03_3","t":271.2,"y":44.1},{"s":"03_3","t":272.1,"y":42.6},{"s":"03_3","t":273.1,"y":43.2},{"s":"03_3","t":274,"y":41.5},{"s":"03_3","t":275,"y":40.3},{"s":"03_3","t":275.9,"y":41.4},{"s":"03_3","t":276.9,"y":43.8},{"s":"03_3","t":277.8,"y":41.5},{"s":"03_3","t":278.7,"y":40.3},{"s":"03_3","t":279.7,"y":41.2},{"s":"03_3","t":280.6,"y":40.7},{"s":"03_3","t":281.6,"y":41.7},{"s":"03_3","t":282.5,"y":40.85},{"s":"03_3","t":283.4,"y":41.4},{"s":"03_3","t":284.4,"y":40.7},{"s":"03_3","t":285.3,"y":41.2},{"s":"03_3","t":286.3,"y":40.3},{"s":"03_3","t":287.2,"y":41.0},{"s":"03_3","t":288.2,"y":40.3},{"s":"03_3","t":289.1,"y":41.4},{"s":"03_3","t":290,"y":40.7},{"s":"03_3","t":291,"y":41.2},{"s":"03_3","t":291.9,"y":40.3},{"s":"03_3","t":292.9,"y":40.85},{"s":"03_3","t":293.8,"y":40.2},{"s":"03_3","t":294.7,"y":40.7},{"s":"03_3","t":295.7,"y":39.4},{"s":"03_3","t":296.6,"y":40.7},{"s":"03_3","t":297.6,"y":40.3},{"s":"03_3","t":298.5,"y":41.2},{"s":"03_3","t":299.5,"y":40.7},{"s":"03_3","t":300.4,"y":41.0},{"s":"03_3","t":301.3,"y":41.4},{"s":"03_3","t":302.3,"y":42.5},{"s":"03_3","t":303.2,"y":41.2},{"s":"03_3","t":304.2,"y":41.7},{"s":"03_3","t":305.1,"y":41.0},{"s":"03_3","t":306.1,"y":40.3},{"s":"03_3","t":307,"y":39.7},{"s":"03_3","t":308,"y":41.0},{"s":"03_3","t":308.9,"y":41.7},{"s":"03_3","t":309.8,"y":41.45}
]
},
"spacing": 29,
"bounds": "flush",
"resolve": {"scale": {"color": "shared"}, "legend": {"color": "independent"}},
"vconcat": [
{
  "title": "Total Processing Time — Multi-Video Comparison",
  "width": 594, "height": 213,
  "data": {"name": "total"},
  "mark": {"type": "line", "strokeWidth": 1.6, "clip": true},
  "encoding": {
    "x": {"field": "t", "type": "quantitative", "scale": {"domain": [-11.3, 325.3], "nice": false, "zero": false}, "axis": {"values": [0, 50, 100, 150, 200, 250, 300], "labels": false, "title": null}},
    "y": {"field": "y", "type": "quantitative", "scale": {"domain": [37.1, 50.3], "nice": false, "zero": false}, "axis": {"values": [38, 40, 42, 44, 46, 48, 50], "title": "Processing Time (ms)"}},
    "color": {"field": "s", "type": "nominal", "scale": {"domain": ["01_1", "02_2", "03_3"], "range": ["#1f77b4", "#ff7f0e", "#2ca02c"]}, "legend": {"orient": "bottom-right", "title": null, "labelExpr": "datum.label == '01_1' ? '01_1 (mean=39.76 ms)' : datum.label == '02_2' ? '02_2 (mean=39.60 ms)' : '03_3 (mean=43.93 ms)'"}}
  }
},
{
  "title": "Pose Inference Time — Multi-Video Comparison",
  "width": 594, "height": 212,
  "data": {"name": "pose"},
  "mark": {"type": "line", "strokeWidth": 1.6, "clip": true},
  "encoding": {
    "x": {"field": "t", "type": "quantitative", "scale": {"domain": [-11.3, 325.3], "nice": false, "zero": false}, "axis": {"values": [0, 50, 100, 150, 200, 250, 300], "title": "Time (s)"}},
    "y": {"field": "y", "type": "quantitative", "scale": {"domain": [34.5, 45.4], "nice": false, "zero": false}, "axis": {"values": [36, 38, 40, 42, 44], "title": "Inference Time (ms)"}},
    "color": {"field": "s", "type": "nominal", "scale": {"domain": ["01_1", "02_2", "03_3"], "range": ["#1f77b4", "#ff7f0e", "#2ca02c"]}, "legend": {"orient": "bottom-right", "title": null, "labelExpr": "datum.label == '01_1' ? '01_1 (mean=36.58 ms)' : datum.label == '02_2' ? '02_2 (mean=37.46 ms)' : '03_3 (mean=39.50 ms)'"}}
  }
}
]
}
